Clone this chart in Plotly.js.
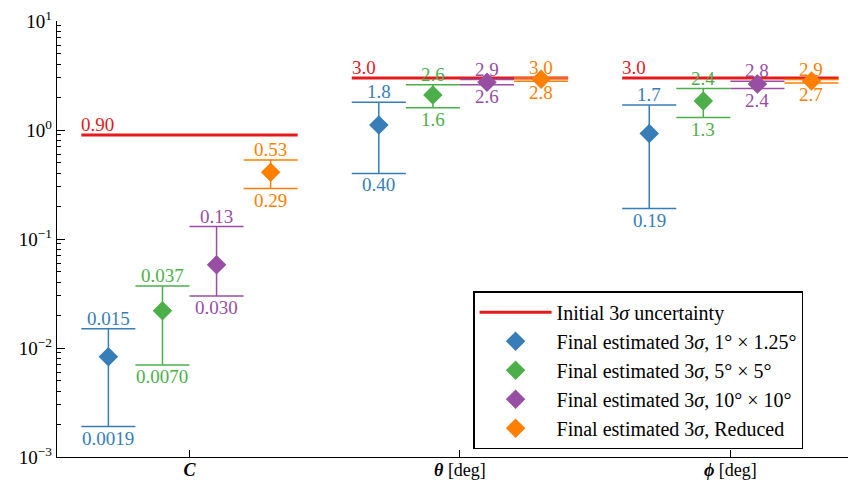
<!DOCTYPE html>
<html><head><meta charset="utf-8">
<script src="https://cdn.plot.ly/plotly-3.0.1.min.js"></script>
<style>html,body{margin:0;padding:0;background:#fff}</style>
</head><body>
<div id="chart" style="width:848px;height:483px"></div>
<script>
// ---- data ----
const categories = ['<b><i>C</i></b>', '<b><i>θ</i></b> [deg]', '<b><i>ϕ</i></b> [deg]'];
const initialSigma = [0.90, 3.0, 3.0];
const initialName = 'Initial 3<i>σ</i> uncertainty';

const seriesNames = [
  'Final estimated 3<i>σ</i>, 1° × 1.25°',
  'Final estimated 3<i>σ</i>, 5° × 5°',
  'Final estimated 3<i>σ</i>, 10° × 10°',
  'Final estimated 3<i>σ</i>, Reduced'
];
const seriesColors = ['#377eb8', '#4daf4a', '#984ea3', '#ff7f00'];
const initialColor = '#e41a1c';

const centre1 = [0.0083, 1.11, 0.93];
const upper1  = [0.015, 1.8, 1.7];
const lower1  = [0.0019, 0.40, 0.19];

const centre2 = [0.022, 2.09, 1.85];
const upper2  = [0.037, 2.6, 2.4];
const lower2  = [0.0070, 1.6, 1.3];

const centre3 = [0.058, 2.74, 2.64];
const upper3  = [0.13, 2.9, 2.8];
const lower3  = [0.030, 2.6, 2.4];

const centre4 = [0.41, 2.92, 2.82];
const upper4  = [0.53, 3.0, 2.9];
const lower4  = [0.29, 2.8, 2.7];

const centres = [centre1, centre2, centre3, centre4];
const uppers = [upper1, upper2, upper3, upper4];
const lowers = [lower1, lower2, lower3, lower4];

// ---- layout helpers ----
const FONT = 'Liberation Serif, DejaVu Serif, serif';
const groupHalf = 0.4;
const slot = 0.2;
const offsets = [-0.3, -0.1, 0.1, 0.3];
const idx = categories.map((_, i) => i);
const fmt = v => v.toPrecision(2);
const L = Math.log10;

const traces = [];
const annotations = [];

// initial uncertainty lines
{
  const xs = [], ys = [];
  idx.forEach(i => { xs.push(i - groupHalf, i + groupHalf, null); ys.push(initialSigma[i], initialSigma[i], null); });
  traces.push({x: xs, y: ys, mode: 'lines', line: {color: initialColor, width: 3},
    name: initialName, legendgroup: 'g0', hoverinfo: 'skip'});
  idx.forEach(i => annotations.push({x: i - groupHalf, y: L(initialSigma[i]), xref: 'x', yref: 'y',
    text: fmt(initialSigma[i]), showarrow: false, xanchor: 'left', yanchor: 'bottom', yshift: -2, xshift: -2,
    font: {family: FONT, size: 19, color: initialColor}}));
}

// error bar series
seriesNames.forEach((nm, s) => {
  const c = seriesColors[s];
  const bx = [], by = [];
  idx.forEach(i => {
    const xc = i + offsets[s];
    bx.push(xc - slot/2, xc + slot/2, null, xc, xc, null, xc - slot/2, xc + slot/2, null);
    by.push(uppers[s][i], uppers[s][i], null, uppers[s][i], lowers[s][i], null, lowers[s][i], lowers[s][i], null);
    annotations.push({x: xc, y: L(uppers[s][i]), xref: 'x', yref: 'y', text: fmt(uppers[s][i]),
      showarrow: false, xanchor: 'center', yanchor: 'bottom', yshift: -2,
      font: {family: FONT, size: 19, color: c}});
    annotations.push({x: xc, y: L(lowers[s][i]), xref: 'x', yref: 'y', text: fmt(lowers[s][i]),
      showarrow: false, xanchor: 'center', yanchor: 'top', yshift: 1,
      font: {family: FONT, size: 19, color: c}});
  });
  traces.push({x: bx, y: by, mode: 'lines', line: {color: c, width: 1.5}, showlegend: false, hoverinfo: 'skip'});
  traces.push({x: idx.map(i => i + offsets[s]), y: centres[s], mode: 'markers',
    marker: {symbol: 'diamond', size: 15, color: c}, name: nm, legendgroup: 'g' + (s + 1)});
});

// minor ticks on log axis
const minorVals = [];
for (let e = -3; e < 1; e++) for (let m = 2; m <= 9; m++) minorVals.push(m * Math.pow(10, e));

const layout = {
  width: 848, height: 483,
  margin: {l: 57, r: 0, t: 21, b: 26},
  paper_bgcolor: '#fff', plot_bgcolor: '#fff',
  font: {family: FONT, size: 18, color: '#000'},
  showlegend: true,
  xaxis: {range: [-0.49, 2.435], tickvals: idx, ticktext: categories,
    showline: true, linecolor: '#000', linewidth: 1.3, ticks: 'inside', ticklen: 7, tickwidth: 1,
    tickcolor: '#000', showgrid: false, zeroline: false, tickfont: {family: FONT, size: 18},
    ticklabelstandoff: -4},
  yaxis: {type: 'log', range: [-3, 1], tickvals: [0.001, 0.01, 0.1, 1, 10],
    ticktext: ['10<sup>−3</sup>', '10<sup>−2</sup>', '10<sup>−1</sup>', '10<sup>0</sup>', '10<sup>1</sup>'],
    showline: true, linecolor: '#000', linewidth: 1.3, ticks: 'inside', ticklen: 8, tickwidth: 1,
    tickcolor: '#000', showgrid: false, zeroline: false, tickfont: {family: FONT, size: 19},
    minor: {tickvals: minorVals, ticks: 'inside', ticklen: 4, tickwidth: 1, tickcolor: '#000', showgrid: false}},
  legend: {x: 0.526, xanchor: 'left', y: 0.018, yanchor: 'bottom', bgcolor: '#fff',
    bordercolor: '#000', borderwidth: 1.5, font: {family: FONT, size: 20},
    traceorder: 'grouped', tracegroupgap: 0, itemwidth: 72},
  annotations: annotations
};

Plotly.newPlot('chart', traces, layout, {displayModeBar: false, staticPlot: true});
</script>
</body></html>
